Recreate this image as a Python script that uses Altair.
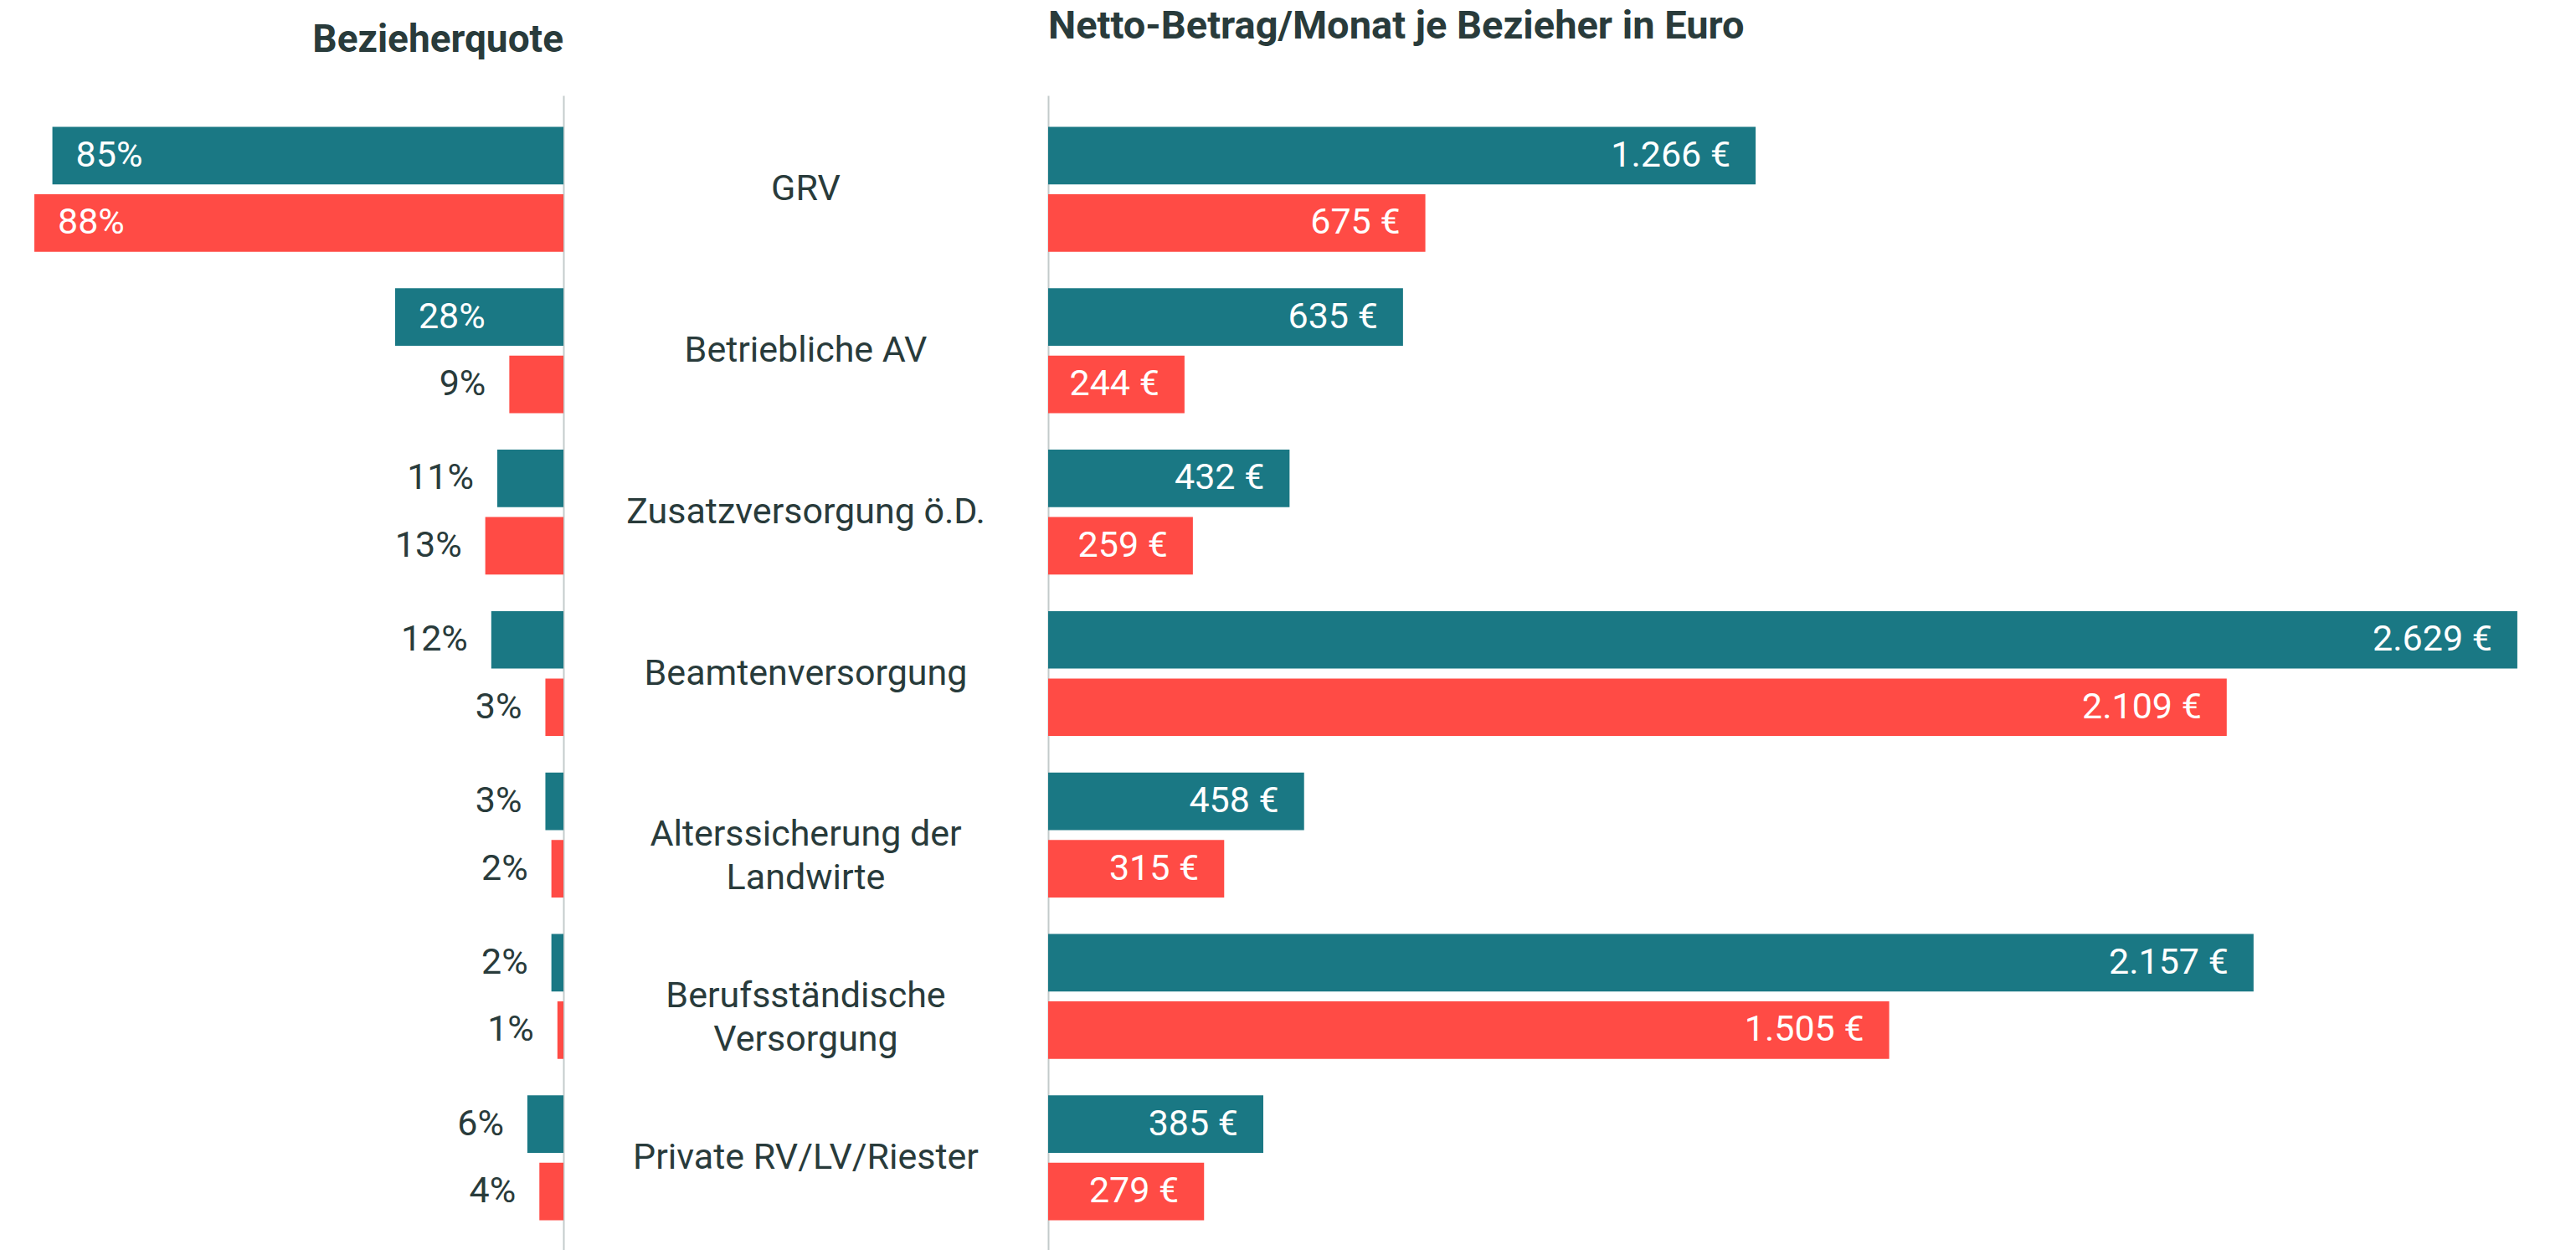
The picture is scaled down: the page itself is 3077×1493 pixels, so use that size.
import altair as alt
import pandas as pd

categories = ["GRV", "Betriebliche AV", "Zusatzversorgung ö.D.", "Beamtenversorgung",
              "Alterssicherung der Landwirte", "Berufsständische Versorgung", "Private RV/LV/Riester"]
cat_labels = ["GRV", "Betriebliche AV", "Zusatzversorgung ö.D.", "Beamtenversorgung",
              "Alterssicherung der\nLandwirte", "Berufsständische\nVersorgung", "Private RV/LV/Riester"]
series = ["Männer", "Frauen"]
quote_m = [85, 28, 11, 12, 3, 2, 6]
quote_f = [88, 9, 13, 3, 2, 1, 4]
betrag_m = [1266, 635, 432, 2629, 458, 2157, 385]
betrag_f = [675, 244, 259, 2109, 315, 1505, 279]

TEAL = "#1a7884"
RED = "#ff4b45"
DARK = "#293b3b"
GRID = "#c3cbcb"
FONT = "Roboto"


def euro(v):
    return f"{v:,}".replace(",", ".") + " €"


rows = []
for i, c in enumerate(categories):
    for s, q, b in ((series[0], quote_m[i], betrag_m[i]), (series[1], quote_f[i], betrag_f[i])):
        rows.append(dict(cat=c, series=s, quote=q, betrag=b, qlabel=f"{q}%", blabel=euro(b)))
df = pd.DataFrame(rows)
cat_df = pd.DataFrame({"cat": categories, "label": cat_labels})

H = 1381
W_L, W_M, W_R = 665, 579, 1817

yscale = alt.Scale(domain=categories, paddingInner=0, paddingOuter=0.081)
yoff = alt.YOffset("series:N", sort=series,
                   scale=alt.Scale(domain=series, paddingInner=0.1466, paddingOuter=0.271))
color = alt.Color("series:N", scale=alt.Scale(domain=series, range=[TEAL, RED]), legend=None)

# ---------- left panel ----------
lx = alt.X("quote:Q", scale=alt.Scale(domain=[0, 92.6], reverse=True, nice=False), axis=None)
ly = alt.Y("cat:N", sort=categories, scale=yscale,
           axis=alt.Axis(orient="right", labels=False, ticks=False, title=None, grid=False,
                         domain=True, domainColor=GRID, domainWidth=2))
lbase = alt.Chart(df)
left_bars = lbase.mark_bar().encode(x=lx, y=ly, yOffset=yoff, color=color)
left_in = lbase.transform_filter("datum.quote >= 20").mark_text(
    align="left", baseline="middle", dx=28, color="white", font=FONT, fontSize=43
).encode(x=lx, y=ly, yOffset=yoff, text="qlabel:N")
left_out = lbase.transform_filter("datum.quote < 20").mark_text(
    align="right", baseline="middle", dx=-28, color=DARK, font=FONT, fontSize=43
).encode(x=lx, y=ly, yOffset=yoff, text="qlabel:N")
left = alt.layer(left_bars, left_in, left_out).properties(
    width=W_L, height=H,
    title=alt.TitleParams("Bezieherquote", anchor="end", font=FONT, fontSize=46, fontWeight="bold",
                          color=DARK, baseline="alphabetic", offset=6)
)

# ---------- middle panel ----------
mid = alt.Chart(cat_df).mark_text(
    align="center", baseline="middle", lineBreak="\n", lineHeight=52, color=DARK, font=FONT, fontSize=43
).encode(
    x=alt.value(W_M / 2),
    y=alt.Y("cat:N", sort=categories, scale=yscale, axis=None),
    text="label:N",
).properties(width=W_M, height=H)

# ---------- right panel ----------
rx = alt.X("betrag:Q", scale=alt.Scale(domain=[0, 2722], nice=False), axis=None)
ry = alt.Y("cat:N", sort=categories, scale=yscale,
           axis=alt.Axis(orient="left", labels=False, ticks=False, title=None, grid=False,
                         domain=True, domainColor=GRID, domainWidth=2))
rbase = alt.Chart(df)
right_bars = rbase.mark_bar().encode(x=rx, y=ry, yOffset=yoff, color=color)
right_lab = rbase.mark_text(
    align="right", baseline="middle", dx=-30, color="white", font=FONT, fontSize=43
).encode(x=rx, y=ry, yOffset=yoff, text="blabel:N")
right = alt.layer(right_bars, right_lab).properties(
    width=W_R, height=H,
    title=alt.TitleParams("Netto-Betrag/Monat je Bezieher in Euro", anchor="start", font=FONT,
                          fontSize=47, fontWeight="bold", color=DARK, baseline="alphabetic", offset=21)
)

chart = alt.hconcat(left, mid, right, spacing=0, bounds="flush").resolve_scale(
    x="independent", y="shared"
).properties(padding=0).configure_view(stroke=None).configure_bar(
    cornerRadius=0
)

chart.save("out.html", embed_options={"renderer": "svg", "actions": False})
